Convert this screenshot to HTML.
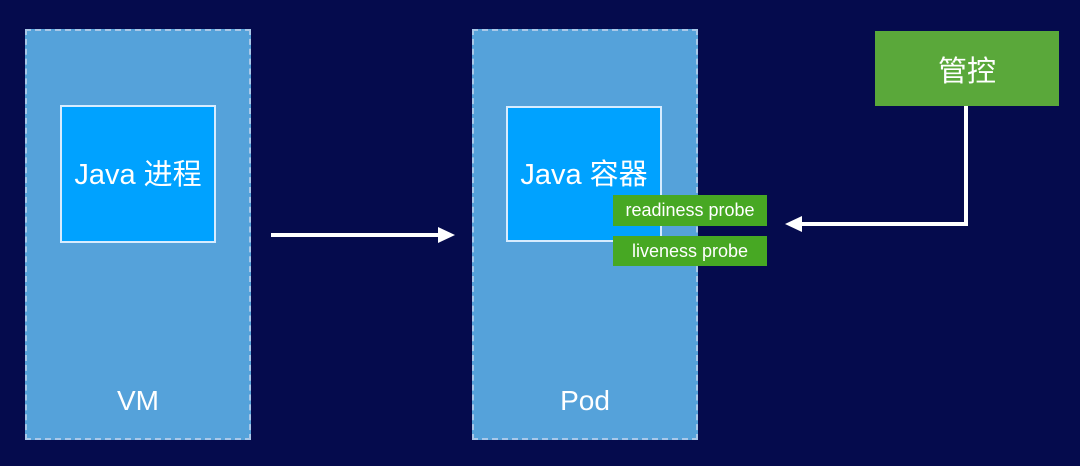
<!DOCTYPE html>
<html><head><meta charset="utf-8"><style>
body{margin:0;width:1080px;height:466px;background:#050b4d;position:relative;overflow:hidden;font-family:"Liberation Sans","Noto Sans CJK SC",sans-serif;color:#fff}
.o{position:absolute;background:#55a2da;border:2px dashed #a9c8e8;box-sizing:border-box}
.i{position:absolute;background:#00a2ff;border:2px solid #d6ecff;box-sizing:border-box;display:flex;align-items:center;justify-content:center;font-size:29px}
.lab{position:absolute;font-size:28px;text-align:center;width:226px}
.g{position:absolute;background:#47a823;font-size:18px;display:flex;align-items:center;justify-content:center;box-sizing:border-box}
</style></head><body>
<div class="o" style="left:25px;top:29px;width:226px;height:411px"></div>
<div class="i" style="left:60px;top:105px;width:156px;height:138px;padding-bottom:4px">Java 进程</div>
<div class="lab" style="left:25px;top:385px">VM</div>
<div class="o" style="left:472px;top:29px;width:226px;height:411px"></div>
<div class="i" style="left:506px;top:106px;width:156px;height:136px;padding-bottom:4px">Java 容器</div>
<div class="lab" style="left:472px;top:385px">Pod</div>
<div class="g" style="left:613px;top:195px;width:154px;height:31px">readiness probe</div>
<div class="g" style="left:613px;top:236px;width:154px;height:30px">liveness probe</div>
<div class="g" style="left:875px;top:31px;width:184px;height:75px;font-size:29px;background:#5aa83a">管控</div>
<svg style="position:absolute;left:0;top:0" width="1080" height="466">
<line x1="271" y1="235" x2="440" y2="235" stroke="#fff" stroke-width="4"/>
<polygon points="455,235 438,227 438,243" fill="#fff"/>
<polyline points="966,106 966,224 800,224" fill="none" stroke="#fff" stroke-width="4"/>
<polygon points="785,224 802,216 802,232" fill="#fff"/>
</svg>
</body></html>
